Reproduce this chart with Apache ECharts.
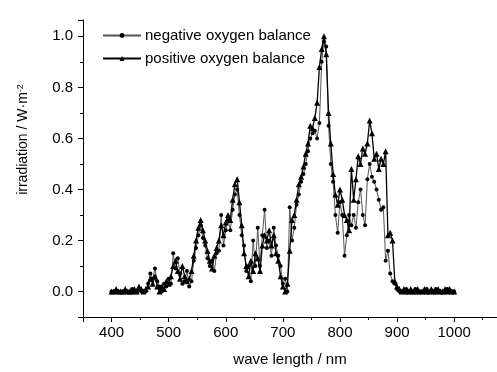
<!DOCTYPE html>
<html>
<head>
<meta charset="utf-8">
<script src="https://cdn.jsdelivr.net/npm/echarts@6/dist/echarts.min.js"></script>
<style>
html,body{margin:0;padding:0;background:#fff;}
#chart{width:497px;height:372px;}
</style>
</head>
<body>
<div id="chart"></div>
<script>
// wavelength samples (nm)
const wavelength = [
  400,404,408,412,416,420,424,428,432,436,
  440,444,448,452,456,460,464,468,472,476,
  480,484,488,492,496,500,504,508,512,516,
  520,524,528,532,536,540,544,548,552,556,
  560,564,568,572,576,580,584,588,592,596,
  600,604,608,612,616,620,624,628,632,636,
  640,644,648,652,656,660,664,668,672,676,
  680,684,688,692,696,700,704,708,712,716,
  720,724,728,732,736,740,744,748,752,756,
  760,764,768,772,776,780,784,788,792,796,
  800,804,808,812,816,820,824,828,832,836,
  840,844,848,852,856,860,864,868,872,876,
  880,884,888,892,896,900,904,908,912,916,
  920,924,928,932,936,940,944,948,952,956,
  960,964,968,972,976,980,984,988,992,996,
  1000
];
// irradiation, negative oxygen balance
const negative = [
  0.00,0.00,0.00,0.00,0.00,0.00,0.00,0.00,0.00,0.01,
  0.00,0.00,0.01,0.00,0.00,0.00,0.03,0.07,0.05,0.09,
  0.04,0.02,0.00,0.03,0.02,0.05,0.03,0.15,0.09,0.13,
  0.07,0.03,0.04,0.08,0.02,0.04,0.12,0.17,0.22,0.26,
  0.21,0.18,0.13,0.10,0.12,0.08,0.15,0.16,0.30,0.18,
  0.24,0.28,0.24,0.32,0.38,0.40,0.30,0.22,0.18,0.08,
  0.10,0.04,0.20,0.10,0.25,0.10,0.22,0.32,0.17,0.20,
  0.14,0.25,0.18,0.14,0.10,0.03,0.05,0.00,0.33,0.20,
  0.25,0.34,0.38,0.43,0.46,0.50,0.55,0.60,0.62,0.63,
  0.60,0.66,0.90,0.98,0.96,0.65,0.50,0.43,0.30,0.23,
  0.35,0.30,0.14,0.22,0.30,0.26,0.30,0.25,0.35,0.40,
  0.30,0.26,0.44,0.50,0.45,0.43,0.40,0.36,0.32,0.33,
  0.12,0.16,0.07,0.04,0.03,0.01,0.00,0.00,0.00,0.01,
  0.00,0.00,0.00,0.01,0.00,0.00,0.00,0.00,0.01,0.00,
  0.00,0.00,0.01,0.00,0.00,0.00,0.00,0.01,0.00,0.00,
  0.00
];
// irradiation, positive oxygen balance
const positive = [
  0.00,0.00,0.01,0.00,0.00,0.00,0.01,0.00,0.00,0.00,
  0.01,0.00,0.02,0.01,0.00,0.01,0.02,0.05,0.03,0.06,
  0.02,0.00,0.02,0.01,0.04,0.03,0.06,0.10,0.12,0.08,
  0.05,0.10,0.06,0.04,0.05,0.08,0.14,0.20,0.25,0.28,
  0.24,0.20,0.16,0.12,0.09,0.14,0.17,0.20,0.26,0.22,
  0.27,0.30,0.28,0.36,0.42,0.44,0.35,0.26,0.15,0.10,
  0.06,0.12,0.08,0.15,0.13,0.08,0.18,0.22,0.20,0.24,
  0.18,0.22,0.15,0.12,0.06,0.02,0.00,0.03,0.16,0.28,
  0.30,0.36,0.42,0.45,0.49,0.54,0.58,0.65,0.64,0.68,
  0.74,0.88,0.95,1.00,0.93,0.70,0.58,0.46,0.38,0.34,
  0.40,0.36,0.30,0.28,0.24,0.48,0.36,0.44,0.53,0.50,
  0.56,0.54,0.58,0.67,0.62,0.52,0.54,0.48,0.52,0.50,
  0.55,0.22,0.23,0.20,0.04,0.02,0.01,0.00,0.01,0.00,
  0.00,0.01,0.00,0.00,0.01,0.00,0.00,0.01,0.00,0.00,
  0.01,0.00,0.00,0.01,0.00,0.00,0.01,0.00,0.01,0.00,
  0.00
];
const seriesNames = ['negative oxygen balance', 'positive oxygen balance'];
const xAxisTitle = 'wave length / nm';
const yAxisTitle = '{a|irradiation / W·m}{s|-2}';

const FONT = 'Liberation Sans, Arial, sans-serif';
const chart = echarts.init(document.getElementById('chart'), null, {renderer: 'canvas'});
const pairs = (vals) => wavelength.map((w, i) => [w, vals[i]]);

chart.setOption({
  animation: false,
  backgroundColor: '#fff',
  textStyle: {fontFamily: FONT, color: '#000'},
  grid: {left: 83, right: -22, top: 20, bottom: 49},
  legend: {
    orient: 'vertical', left: 102, top: 28, padding: 0,
    itemWidth: 38, itemHeight: 6, itemGap: 8,
    textStyle: {fontFamily: FONT, fontSize: 15, color: '#000', padding: [0,0,0,-1]},
    data: seriesNames
  },
  xAxis: {
    type: 'value', min: 350, max: 1075,
    name: xAxisTitle, nameLocation: 'middle', nameGap: 35,
    nameTextStyle: {fontFamily: FONT, fontSize: 15, color: '#000'},
    axisLine: {onZero: false, lineStyle: {color: '#000', width: 1}},
    axisTick: {show: true, length: 5, lineStyle: {color: '#000'}},
    minorTick: {show: true, splitNumber: 2, length: 3, lineStyle: {color: '#000'}},
    axisLabel: {fontFamily: FONT, fontSize: 15, color: '#000', margin: 8, showMinLabel: false, showMaxLabel: false,
      formatter: (v) => String(v)},
    splitLine: {show: false}
  },
  yAxis: {
    type: 'value', min: -0.1, max: 1.064,
    name: yAxisTitle, nameLocation: 'middle', nameGap: 52,
    nameTextStyle: {fontFamily: FONT, fontSize: 14, color: '#000', padding: [0, 0, 0, 58],
      rich: {a: {fontFamily: FONT, fontSize: 14, color: '#000'},
             s: {fontFamily: FONT, fontSize: 9, color: '#000', verticalAlign: 'top', padding: [0,0,6,0]}}},
    axisLine: {show: true, onZero: false, lineStyle: {color: '#000', width: 1}},
    axisTick: {show: true, length: 5, lineStyle: {color: '#000'}},
    minorTick: {show: true, splitNumber: 2, length: 3, lineStyle: {color: '#000'}},
    axisLabel: {fontFamily: FONT, fontSize: 15, color: '#000', margin: 10, showMinLabel: false, showMaxLabel: false,
      formatter: (v) => v.toFixed(1)},
    splitLine: {show: false}
  },
  series: [
    {
      name: seriesNames[0], type: 'line', data: pairs(negative),
      symbol: 'circle', symbolSize: 4, showAllSymbol: true,
      lineStyle: {color: '#555', width: 1},
      itemStyle: {color: '#000', borderWidth: 0},
      z: 2
    },
    {
      name: seriesNames[1], type: 'line', data: pairs(positive),
      symbol: 'triangle', symbolSize: 6, showAllSymbol: true,
      lineStyle: {color: '#000', width: 1.3},
      itemStyle: {color: '#000', borderWidth: 0},
      z: 3
    }
  ]
});
</script>
</body>
</html>
